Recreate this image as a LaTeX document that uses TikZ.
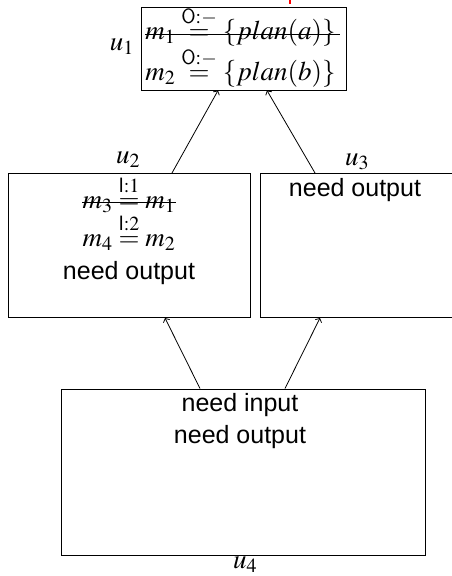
\documentclass[tikz,border=0pt]{standalone}
\usepackage{amsmath}
\usepackage{mathptmx}
\usepackage[no-math]{fontspec}
\setsansfont{Liberation Sans}
\usetikzlibrary{arrows.meta}
\begin{document}
\begin{tikzpicture}[x=1pt,y=-1pt,
  box/.style={draw, line width=1pt, inner sep=0pt},
  mathlbl/.style={font=\fontsize{27}{30}\selectfont, inner sep=0pt},
  txt/.style={font=\fontsize{25}{30}\selectfont\sffamily, inner sep=0pt},
  link/.style={line width=0.8pt, -{Straight Barb[length=3pt,width=7pt]}},
  strike/.style={line width=1pt}]
\useasboundingbox (0,0) rectangle (451,576);
% boxes
\node[box, minimum width=205pt, minimum height=83pt] (u1) at (243.5,48.5) {};
\node[box, minimum width=242pt, minimum height=144pt] (u2) at (129,245.5) {};
\node[box, minimum width=200pt, minimum height=144pt] (u3) at (360,245.5) {};
\node[box, minimum width=364pt, minimum height=166pt] (u4) at (243,472) {};
% labels
\node[mathlbl, anchor=east] (l1) at (134,47) {$u_1$};
\node[mathlbl] (l2) at (128,160) {$u_2$};
\node[mathlbl] (l3) at (357,162) {$u_3$};
\node[mathlbl] (l4) at (245,565) {$u_4$};
% u1 contents
\node[mathlbl, anchor=base] (r1) at (240.5,39) {$m_1 \stackrel{\mathsf{O}:-}{=} \{plan(a)\}$};
\node[mathlbl, anchor=base] (r2) at (240.5,80) {$m_2 \stackrel{\mathsf{O}:-}{=} \{plan(b)\}$};
\draw[strike] ([yshift=5pt]r1.base west) -- ([yshift=5pt,xshift=4pt]r1.base east);
% u2 contents
\node[mathlbl, anchor=base] (r3) at (129,208) {$m_3 \stackrel{\mathsf{I}:1}{=} m_1$};
\node[mathlbl, anchor=base] (r4) at (129,246) {$m_4 \stackrel{\mathsf{I}:2}{=} m_2$};
\draw[strike] ([yshift=6pt]r3.base west) -- ([yshift=6pt]r3.base east);
\node[txt] (t2) at (129,273) {need output};
% u3 contents
\node[txt] (t3) at (355,190) {need output};
% u4 contents
\node[txt] (t4a) at (240,405) {need input};
\node[txt] (t4b) at (240,437) {need output};
% connectors
\draw[link] ([xshift=43pt]u2.north) -- ([xshift=-25.5pt]u1.south);
\draw[link] ([xshift=-45pt]u3.north) -- ([xshift=23.5pt]u1.south);
\draw[link] ([xshift=-43pt]u4.north) -- ([xshift=36pt]u2.south);
\draw[link] ([xshift=42pt]u4.north) -- ([xshift=-40pt]u3.south);
% red mark
\draw[red, line width=2pt] (290,0) -- (290,4);
\end{tikzpicture}
\end{document}
